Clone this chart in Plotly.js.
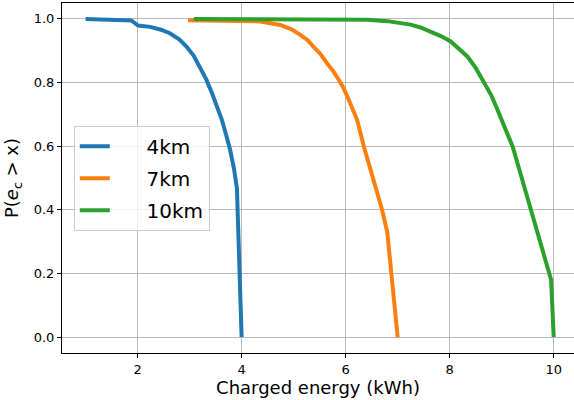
<!DOCTYPE html>
<html>
<head>
<meta charset="utf-8">
<script src="https://cdn.plot.ly/plotly-3.0.1.min.js"></script>
<style>html,body{margin:0;padding:0;background:#fff;}#chart{width:574px;height:400px;}</style>
</head>
<body>
<div id="chart"></div>
<script>
// Series: 4km
const x4 = [1.0, 1.88, 2.01, 2.24, 2.45, 2.62, 2.80, 2.94, 3.08, 3.20, 3.32, 3.43, 3.53, 3.62, 3.70, 3.78, 3.85, 3.91, 4.0];
const y4 = [1.0, 0.995, 0.979, 0.975, 0.966, 0.955, 0.936, 0.913, 0.884, 0.850, 0.810, 0.767, 0.727, 0.683, 0.637, 0.588, 0.532, 0.468, 0.0];
// Series: 7km
const x7 = [2.97, 3.5, 4.0, 4.36, 4.74, 4.95, 5.13, 5.27, 5.38, 5.52, 5.64, 5.76, 5.87, 5.96, 6.06, 6.14, 6.22, 6.35, 6.54, 6.70, 6.80, 7.0];
const y7 = [0.996, 0.995, 0.994, 0.992, 0.981, 0.968, 0.950, 0.933, 0.913, 0.889, 0.861, 0.836, 0.808, 0.782, 0.746, 0.715, 0.683, 0.599, 0.494, 0.400, 0.330, 0.0];
// Series: 10km
const x10 = [3.08, 4.5, 5.13, 6.0, 6.41, 6.80, 7.05, 7.25, 7.44, 7.65, 7.83, 8.02, 8.17, 8.34, 8.50, 8.66, 8.80, 8.92, 9.06, 9.21, 9.38, 9.56, 9.75, 9.95, 10.0];
const y10 = [1.0, 1.0, 0.999, 0.998, 0.997, 0.993, 0.987, 0.982, 0.973, 0.960, 0.946, 0.929, 0.907, 0.882, 0.846, 0.803, 0.760, 0.714, 0.660, 0.599, 0.503, 0.400, 0.292, 0.180, 0.0];

const names = ['4km', '7km', '10km'];
const colors = ['#1f77b4', '#ff7f0e', '#2ca02c'];
const xs = [x4, x7, x10];
const ys = [y4, y7, y10];

const yTicks = [0.0, 0.2, 0.4, 0.6, 0.8, 1.0];
const xTicks = [2, 4, 6, 8, 10];

const pad = '\u00a0\u00a0\u00a0\u00a0\u00a0';
const traces = names.map((n, i) => ({
  x: xs[i], y: ys[i], name: pad + n, legendgroup: 'g' + i, type: 'scatter', mode: 'lines',
  line: {color: colors[i], width: 4}
}));

const font = 'DejaVu Sans, sans-serif';
const layout = {
  width: 574, height: 400,
  margin: {l: 62, r: 0, t: 3, b: 47},
  paper_bgcolor: '#fff', plot_bgcolor: '#fff',
  font: {family: font, color: '#000', size: 13},
  showlegend: true,
  legend: {
    x: 0.023, y: 0.649, xanchor: 'left', yanchor: 'top',
    bgcolor: 'rgba(255,255,255,0.8)', bordercolor: '#cccccc', borderwidth: 1,
    font: {family: font, size: 20, color: '#000'},
    tracegroupgap: 3
  },
  xaxis: {
    range: [0.547, 10.39], tickvals: xTicks, ticktext: xTicks.map(String),
    showgrid: true, gridcolor: '#b8b8b8', gridwidth: 1,
    zeroline: false, showline: true, linecolor: '#000', linewidth: 1, mirror: true,
    ticks: 'outside', ticklen: 4, tickcolor: '#000',
    tickfont: {family: font, size: 13},
    title: {text: 'Charged energy (kWh)', font: {family: font, size: 18}, standoff: 4}
  },
  yaxis: {
    range: [-0.05, 1.05], tickvals: yTicks, ticktext: yTicks.map(v => v.toFixed(1)),
    showgrid: true, gridcolor: '#b8b8b8', gridwidth: 1,
    zeroline: false, showline: true, linecolor: '#000', linewidth: 1,
    ticks: 'outside', ticklen: 4, tickcolor: '#000',
    tickfont: {family: font, size: 13},
    title: {text: 'P(<i>e</i><sub>c</sub> > x)', font: {family: font, size: 18}, standoff: 10}
  }
};

Plotly.newPlot('chart', traces, layout, {displayModeBar: false, staticPlot: true});
</script>
</body>
</html>
